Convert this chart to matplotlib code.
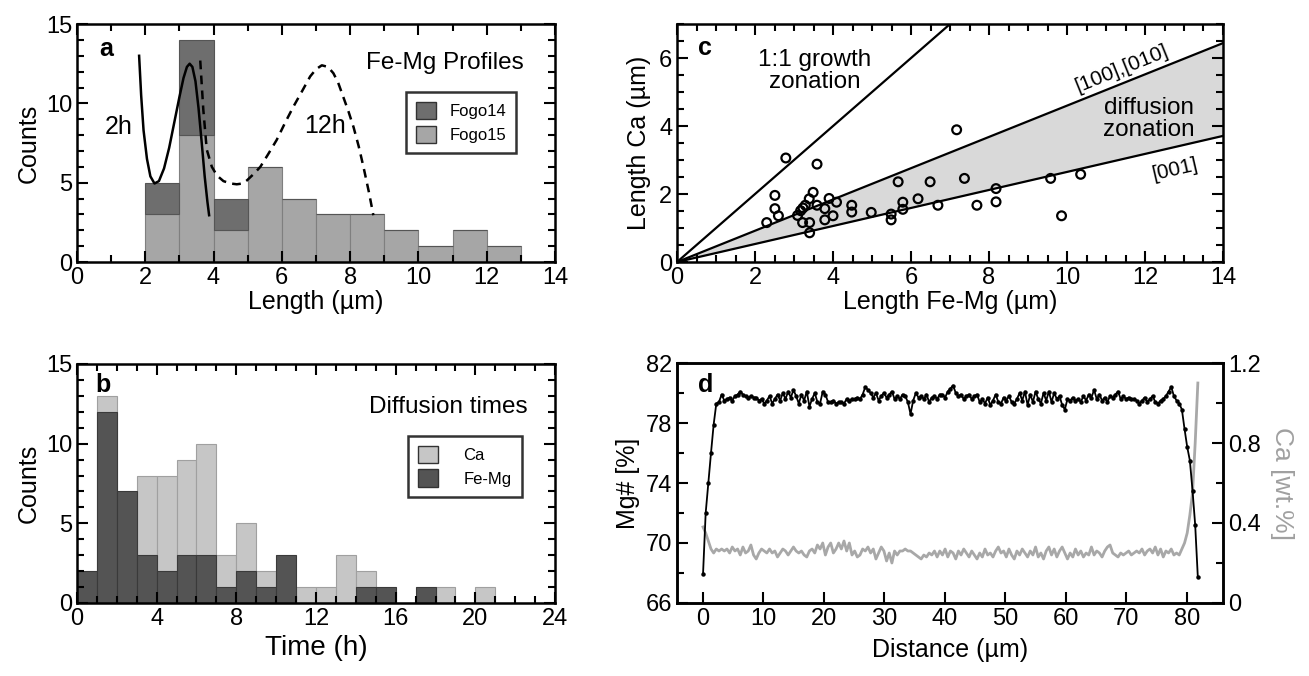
#! /usr/bin/env python3
import matplotlib
matplotlib.use("Agg")
import matplotlib.pyplot as plt
import numpy as np
from matplotlib.patches import Patch
from matplotlib.ticker import MultipleLocator

plt.rcParams['font.family'] = ['Liberation Sans', 'DejaVu Sans']

# ---- panel a: Fe-Mg profile lengths (bins of 1 um starting at 2)
len_bins = [2, 3, 4, 5, 6, 7, 8, 9, 10, 11, 12]
fogo15 = [3, 8, 2, 6, 4, 3, 3, 2, 1, 2, 1]
fogo14 = [2, 6, 2, 0, 0, 0, 0, 0, 0, 0, 0]

# model curves
curve2h_x = [1.82, 1.88, 1.95, 2.05, 2.15, 2.27, 2.4, 2.55, 2.7, 2.85, 3.0,
             3.12, 3.22, 3.3, 3.38, 3.47, 3.56, 3.65, 3.74, 3.82, 3.87]
curve2h_y = [13.0, 10.5, 8.3, 6.5, 5.4, 4.95, 5.1, 5.9, 7.2, 8.8, 10.4,
             11.6, 12.3, 12.5, 12.3, 11.4, 9.7, 7.6, 5.4, 3.8, 2.95]
curve12h_x = [3.61, 3.7, 3.8, 3.95, 4.1, 4.29, 4.5, 4.68, 4.85, 4.98, 5.2, 5.37,
              5.6, 5.85, 6.1, 6.34, 6.6, 6.83, 7.0, 7.17, 7.35, 7.51, 7.65, 7.8,
              7.95, 8.1, 8.25, 8.39, 8.55, 8.68]
curve12h_y = [12.7, 9.6, 7.1, 6.0, 5.45, 5.1, 4.95, 4.9, 4.95, 5.15, 5.6, 6.0,
              6.8, 7.7, 8.8, 9.8, 10.8, 11.7, 12.15, 12.4, 12.3, 11.9, 11.3, 10.4,
              9.5, 8.5, 7.3, 6.0, 4.4, 2.95]

# ---- panel b: diffusion times (bins of 1 h)
time_bins = list(range(0, 24))
ca_counts = [0, 13, 0, 8, 8, 9, 10, 3, 5, 2, 0, 1, 1, 3, 2, 0, 0, 0, 1, 0, 1, 0, 0, 0]
femg_counts = [2, 12, 7, 3, 2, 3, 3, 1, 2, 1, 3, 0, 0, 0, 1, 1, 0, 1, 0, 0, 0, 0, 0, 0]

# ---- panel c: Ca vs Fe-Mg profile length
len_femg = [2.30, 2.51, 2.51, 2.60, 2.79, 3.09, 3.17, 3.23, 3.29, 3.22, 3.39, 3.49,
            3.40, 3.40, 3.59, 3.59, 3.79, 3.79, 3.90, 4.00, 4.09, 4.48, 4.48, 4.98,
            5.49, 5.49, 5.67, 5.79, 5.79, 6.18, 6.49, 6.69, 7.17, 7.37, 7.69, 8.18,
            8.18, 9.58, 9.86, 10.35]
len_ca = [1.16, 1.96, 1.57, 1.36, 3.06, 1.37, 1.51, 1.59, 1.67, 1.16, 1.86, 2.05,
          1.16, 0.86, 2.88, 1.67, 1.57, 1.24, 1.87, 1.36, 1.76, 1.67, 1.47, 1.46,
          1.41, 1.24, 2.36, 1.76, 1.55, 1.86, 2.36, 1.67, 3.89, 2.46, 1.67, 2.16,
          1.77, 2.46, 1.36, 2.58]
slope_100 = 0.46   # [100],[010]
slope_001 = 0.265  # [001]

# ---- panel d: profile, 0.44 um step
step_um = 0.44
mg_num = [
    67.9, 72.0, 74.0, 76.0, 77.9, 79.3, 79.4, 79.9, 79.5, 79.6,
    79.7, 79.5, 79.8, 79.9, 80.1, 79.9, 79.8, 79.7, 79.8, 79.7,
    79.7, 79.5, 79.6, 79.3, 79.5, 79.8, 79.3, 79.6, 79.9, 79.5,
    80.0, 79.6, 80.1, 79.7, 80.2, 79.8, 79.3, 79.9, 79.5, 80.1,
    79.1, 79.6, 80.0, 79.4, 79.3, 80.1, 79.9, 79.4, 79.4, 79.5,
    79.3, 79.4, 79.4, 79.3, 79.6, 79.5, 79.6, 79.6, 79.7, 79.6,
    79.9, 80.4, 80.2, 80.0, 79.7, 80.0, 79.5, 79.8, 80.0, 79.7,
    79.9, 80.1, 79.6, 79.8, 79.6, 79.9, 79.8, 79.4, 78.6, 79.5,
    80.0, 79.7, 79.8, 79.6, 79.9, 79.4, 79.7, 79.8, 79.6, 79.9,
    79.9, 79.7, 80.1, 80.3, 80.5, 80.0, 79.8, 79.9, 79.6, 79.8,
    79.9, 79.6, 79.8, 79.9, 79.4, 79.6, 79.3, 79.7, 79.2, 79.5,
    79.9, 79.4, 79.3, 79.7, 79.5, 79.8, 79.4, 79.3, 79.6, 80.0,
    79.5, 80.1, 79.2, 79.9, 79.4, 80.1, 79.6, 79.3, 80.0, 79.5,
    80.1, 79.4, 80.0, 79.6, 79.8, 79.2, 78.9, 79.6, 79.5, 79.7,
    79.5, 79.6, 79.4, 79.8, 79.5, 79.9, 79.7, 80.2, 79.6, 79.9,
    79.5, 79.7, 79.4, 79.8, 79.7, 79.9, 80.1, 79.6, 79.8, 79.6,
    79.7, 79.6, 79.6, 79.5, 79.3, 79.5, 79.7, 79.4, 79.6, 79.8,
    79.4, 79.3, 79.5, 79.6, 79.8, 80.1, 80.4, 79.8, 79.5, 79.3,
    78.9, 77.6, 76.4, 75.5, 73.5, 71.2, 67.7]
ca_wt = [
    0.38, 0.35, 0.31, 0.27, 0.25, 0.27, 0.26, 0.27, 0.26, 0.27,
    0.25, 0.28, 0.26, 0.27, 0.24, 0.28, 0.25, 0.26, 0.29, 0.24,
    0.22, 0.25, 0.27, 0.26, 0.25, 0.27, 0.25, 0.26, 0.23, 0.25,
    0.27, 0.26, 0.24, 0.26, 0.28, 0.26, 0.25, 0.26, 0.24, 0.23,
    0.26, 0.27, 0.25, 0.29, 0.27, 0.30, 0.24, 0.28, 0.30, 0.25,
    0.27, 0.30, 0.27, 0.31, 0.26, 0.30, 0.24, 0.26, 0.23, 0.24,
    0.27, 0.26, 0.28, 0.25, 0.27, 0.22, 0.25, 0.28, 0.26, 0.21,
    0.25, 0.20, 0.26, 0.24, 0.26, 0.26, 0.27, 0.26, 0.26, 0.25,
    0.24, 0.23, 0.22, 0.24, 0.23, 0.25, 0.24, 0.26, 0.23, 0.26,
    0.24, 0.27, 0.23, 0.26, 0.25, 0.22, 0.26, 0.24, 0.27, 0.25,
    0.23, 0.26, 0.24, 0.22, 0.25, 0.23, 0.27, 0.24, 0.25, 0.23,
    0.26, 0.28, 0.25, 0.26, 0.23, 0.27, 0.24, 0.22, 0.26, 0.24,
    0.27, 0.25, 0.23, 0.26, 0.24, 0.28, 0.23, 0.25, 0.22, 0.26,
    0.28, 0.24, 0.27, 0.23, 0.26, 0.28, 0.25, 0.22, 0.25, 0.23,
    0.27, 0.24, 0.26, 0.23, 0.25, 0.24, 0.28, 0.24, 0.26, 0.25,
    0.23, 0.26, 0.28, 0.29, 0.25, 0.24, 0.23, 0.25, 0.24, 0.25,
    0.26, 0.24, 0.25, 0.26, 0.25, 0.27, 0.24, 0.26, 0.27, 0.25,
    0.28, 0.24, 0.27, 0.23, 0.26, 0.25, 0.27, 0.24, 0.25, 0.24,
    0.27, 0.30, 0.35, 0.44, 0.55, 0.80, 1.10]
distance = np.arange(len(mg_num)) * step_um

TICK = 17
LAB = 18
TXT = 17.5


def style(ax, top=True, right=True):
    for s in ax.spines.values():
        s.set_linewidth(1.8)
    ax.tick_params(which='both', direction='in', top=top, right=right,
                   labelsize=TICK, width=1.5)
    ax.tick_params(which='major', length=8)
    ax.tick_params(which='minor', length=5)


fig = plt.figure(figsize=(13.09, 6.76), dpi=100)

# a
ax = fig.add_axes([0.0588, 0.6124, 0.3652, 0.352])
ax.bar(len_bins, fogo15, width=1, align='edge', color='#a6a6a6', edgecolor='#7f7f7f', lw=0.8)
ax.bar(len_bins, fogo14, width=1, align='edge', bottom=fogo15, color='#6e6e6e',
       edgecolor='#555555', lw=0.8)
ax.plot(curve2h_x, curve2h_y, color='black', lw=1.8)
ax.plot(curve12h_x, curve12h_y, color='black', lw=1.8, ls=(0, (3.5, 2.5)))
ax.set_xlim(0, 14)
ax.set_ylim(0, 15)
ax.xaxis.set_major_locator(MultipleLocator(2))
ax.xaxis.set_minor_locator(MultipleLocator(1))
ax.yaxis.set_major_locator(MultipleLocator(5))
ax.yaxis.set_minor_locator(MultipleLocator(1))
style(ax)
ax.set_xlabel('Length (µm)', fontsize=LAB, labelpad=1)
ax.set_ylabel('Counts', fontsize=LAB, labelpad=4)
ax.text(0.046, 0.895, 'a', transform=ax.transAxes, fontsize=18, fontweight='bold', va='center')
ax.text(1.22, 8.5, '2h', fontsize=18, ha='center', va='center')
ax.text(7.25, 8.55, '12h', fontsize=18, ha='center', va='center')
ax.text(0.77, 0.836, 'Fe-Mg Profiles', transform=ax.transAxes, fontsize=TXT, ha='center', va='center')
hd = [Patch(facecolor='#6e6e6e', edgecolor='#333333'), Patch(facecolor='#a6a6a6', edgecolor='#333333')]
lg = ax.legend(hd, ['Fogo14', 'Fogo15'], loc='upper left', bbox_to_anchor=(0.671, 0.75),
               fontsize=12, frameon=True, fancybox=False, edgecolor='black',
               handlelength=1.2, handleheight=1.2, borderpad=0.6, labelspacing=0.4)
lg.get_frame().set_linewidth(1.8)

# b
ax = fig.add_axes([0.0588, 0.108, 0.3652, 0.3536])
ax.bar(time_bins, ca_counts, width=1, align='edge', color='#c6c6c6', edgecolor='#a0a0a0', lw=0.8)
ax.bar(time_bins, femg_counts, width=1, align='edge', color='#545454', edgecolor='#3a3a3a', lw=0.8)
ax.set_xlim(0, 24)
ax.set_ylim(0, 15)
ax.xaxis.set_major_locator(MultipleLocator(4))
ax.xaxis.set_minor_locator(MultipleLocator(1))
ax.yaxis.set_major_locator(MultipleLocator(5))
ax.yaxis.set_minor_locator(MultipleLocator(1))
style(ax)
ax.set_xlabel('Time (h)', fontsize=20, labelpad=4)
ax.set_ylabel('Counts', fontsize=LAB, labelpad=4)
ax.text(0.038, 0.912, 'b', transform=ax.transAxes, fontsize=18, fontweight='bold', va='center')
ax.text(0.776, 0.82, 'Diffusion times', transform=ax.transAxes, fontsize=TXT, ha='center', va='center')
hd = [Patch(facecolor='#c6c6c6', edgecolor='#333333'), Patch(facecolor='#545454', edgecolor='#333333')]
lg = ax.legend(hd, ['Ca', 'Fe-Mg'], loc='upper left', bbox_to_anchor=(0.676, 0.735),
               fontsize=12, frameon=True, fancybox=False, edgecolor='black',
               handlelength=1.2, handleheight=1.2, borderpad=0.6, labelspacing=0.4,
               handletextpad=1.5)
lg.get_frame().set_linewidth(1.8)

# c
ax = fig.add_axes([0.5172, 0.6124, 0.4171, 0.352])
xl = np.array([0, 14])
ax.fill_between(xl, slope_001 * xl, slope_100 * xl, color='#d9d9d9', lw=0)
ax.plot(xl, xl, color='black', lw=1.6)
ax.plot(xl, slope_100 * xl, color='black', lw=1.6)
ax.plot(xl, slope_001 * xl, color='black', lw=1.6)
ax.scatter(len_femg, len_ca, s=40, facecolors='none', edgecolors='black', linewidths=1.6, zorder=3)
ax.set_xlim(0, 14)
ax.set_ylim(0, 7)
ax.xaxis.set_major_locator(MultipleLocator(2))
ax.xaxis.set_minor_locator(MultipleLocator(0.5))
ax.yaxis.set_major_locator(MultipleLocator(2))
ax.yaxis.set_minor_locator(MultipleLocator(0.5))
style(ax)
ax.set_xlabel('Length Fe-Mg (µm)', fontsize=LAB, labelpad=1)
ax.set_ylabel('Length Ca (µm)', fontsize=LAB, labelpad=6)
ax.text(0.038, 0.9, 'c', transform=ax.transAxes, fontsize=18, fontweight='bold', va='center')
ax.text(3.54, 5.63, '1:1 growth\nzonation', fontsize=TXT, ha='center', va='center', linespacing=1.0)
ax.text(12.1, 4.22, 'diffusion\nzonation', fontsize=TXT, ha='center', va='center', linespacing=1.0)
ax.text(11.4, 5.7, '[100],[010]', fontsize=15, ha='center', va='center', rotation=22)
ax.text(12.77, 2.72, '[001]', fontsize=15, ha='center', va='center', rotation=13)

# d
ax = fig.add_axes([0.5172, 0.108, 0.4171, 0.355])
ax2 = ax.twinx()
ax2.plot(distance, ca_wt, color='#a8a8a8', lw=2.0)
ax2.set_ylim(0, 1.2)
ax.plot(distance, mg_num, color='black', lw=1.3, marker='o', ms=2.2)
ax.set_zorder(ax2.get_zorder() + 1)
ax.patch.set_visible(False)
ax.set_xlim(-4.3, 86)
ax.set_ylim(66, 82)
ax.set_xticks(range(0, 81, 10))
ax.set_yticks([66, 70, 74, 78, 82])
ax.yaxis.set_minor_locator(MultipleLocator(2))
ax2.set_yticks([0, 0.4, 0.8, 1.2])
ax2.set_yticklabels(['0', '0.4', '0.8', '1.2'])
ax2.yaxis.set_minor_locator(MultipleLocator(0.2))
for a in (ax, ax2):
    for s in a.spines.values():
        s.set_linewidth(1.8)
ax.tick_params(which='both', direction='in', top=False, right=False, labelsize=TICK, width=1.5)
ax.tick_params(which='major', length=8)
ax.tick_params(which='minor', length=5)
ax2.tick_params(which='both', direction='in', labelsize=TICK, width=1.5)
ax2.tick_params(which='major', length=8)
ax2.tick_params(which='minor', length=5)
ax.set_xlabel('Distance (µm)', fontsize=LAB, labelpad=6)
ax.set_ylabel('Mg# [%]', fontsize=LAB, labelpad=4)
ax2.set_ylabel('Ca [wt.%]', fontsize=LAB + 1, color='#a0a0a0', rotation=270, labelpad=24)
ax.text(0.038, 0.908, 'd', transform=ax.transAxes, fontsize=18, fontweight='bold', va='center')

fig.savefig('out.png', dpi=100)
